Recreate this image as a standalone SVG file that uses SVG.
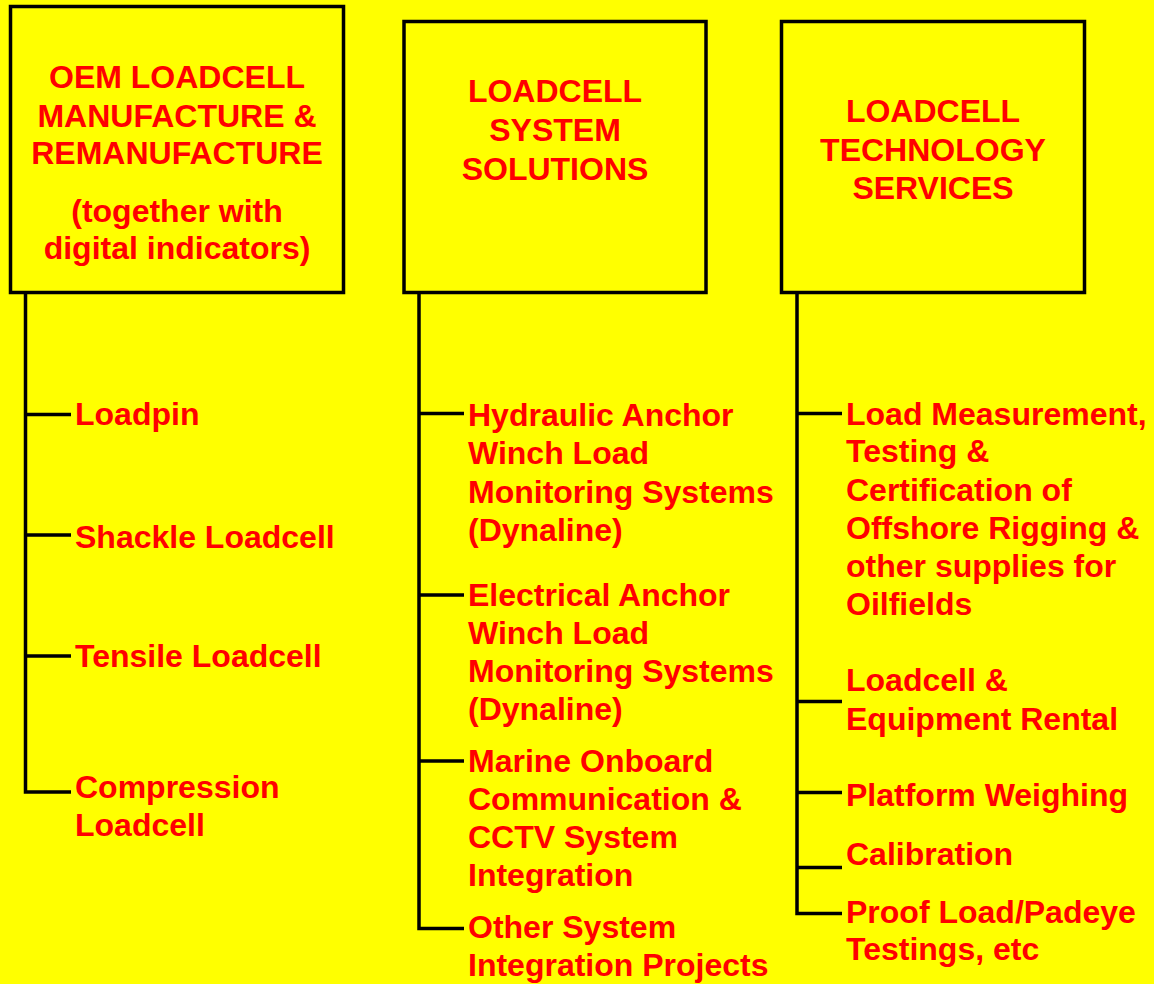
<svg xmlns="http://www.w3.org/2000/svg" width="1163" height="984" viewBox="0 0 1163 984">
<style>
.box{fill:#FFFF00;stroke:#000;stroke-width:3.5}
.t{font-family:"Liberation Sans",Arial,sans-serif;font-weight:bold;font-size:32px;fill:#FF0000}
.c{text-anchor:middle}
.ln{fill:none;stroke:#000;stroke-width:3.5}
</style>
<rect x="0" y="0" width="1163" height="984" fill="#FFFFFF"/>
<rect x="0" y="0" width="1154" height="984" fill="#FFFF00"/>
<g id="connectors">
<path class="ln" d="M25.5 294 V792 H71 M25.5 414.5 H71 M25.5 535 H71 M25.5 656 H71"/>
<path class="ln" d="M419 294 V928.5 H464 M419 413.5 H464 M419 595 H464 M419 761 H464"/>
<path class="ln" d="M797 294 V913.5 H842 M797 413.5 H842 M797 701.5 H842 M797 792.5 H842 M797 867.5 H842"/>
</g>
<g id="box-oem">
<rect class="box" x="10.5" y="6.5" width="333" height="286"/>
<text class="t c" x="177" y="88">OEM LOADCELL</text>
<text class="t c" x="177" y="127">MANUFACTURE &amp;</text>
<text class="t c" x="177" y="164">REMANUFACTURE</text>
<text class="t c" x="177" y="222">(together with</text>
<text class="t c" x="177" y="259">digital indicators)</text>
</g>
<g id="box-system">
<rect class="box" x="404" y="21.5" width="302" height="271"/>
<text class="t c" x="555" y="102">LOADCELL</text>
<text class="t c" x="555" y="141">SYSTEM</text>
<text class="t c" x="555" y="180">SOLUTIONS</text>
</g>
<g id="box-tech">
<rect class="box" x="781.5" y="21.5" width="303" height="271"/>
<text class="t c" x="933" y="122">LOADCELL</text>
<text class="t c" x="933" y="161">TECHNOLOGY</text>
<text class="t c" x="933" y="199">SERVICES</text>
</g>
<g id="item-loadpin"><text class="t" x="75" y="425">Loadpin</text></g>
<g id="item-shackle"><text class="t" x="75" y="548">Shackle Loadcell</text></g>
<g id="item-tensile"><text class="t" x="75" y="667">Tensile Loadcell</text></g>
<g id="item-compression"><text class="t" x="75" y="798">Compression</text><text class="t" x="75" y="836">Loadcell</text></g>
<g id="item-hydraulic">
<text class="t" x="468" y="426">Hydraulic Anchor</text>
<text class="t" x="468" y="464">Winch Load</text>
<text class="t" x="468" y="503">Monitoring Systems</text>
<text class="t" x="468" y="541">(Dynaline)</text>
</g>
<g id="item-electrical">
<text class="t" x="468" y="606">Electrical Anchor</text>
<text class="t" x="468" y="644">Winch Load</text>
<text class="t" x="468" y="682">Monitoring Systems</text>
<text class="t" x="468" y="720">(Dynaline)</text>
</g>
<g id="item-marine">
<text class="t" x="468" y="772">Marine Onboard</text>
<text class="t" x="468" y="810">Communication &amp;</text>
<text class="t" x="468" y="848">CCTV System</text>
<text class="t" x="468" y="886">Integration</text>
</g>
<g id="item-other">
<text class="t" x="468" y="938">Other System</text>
<text class="t" x="468" y="976">Integration Projects</text>
</g>
<g id="item-load-measurement">
<text class="t" x="846" y="425">Load Measurement,</text>
<text class="t" x="846" y="462">Testing &amp;</text>
<text class="t" x="846" y="501">Certification of</text>
<text class="t" x="846" y="539">Offshore Rigging &amp;</text>
<text class="t" x="846" y="577">other supplies for</text>
<text class="t" x="846" y="615">Oilfields</text>
</g>
<g id="item-rental">
<text class="t" x="846" y="691">Loadcell &amp;</text>
<text class="t" x="846" y="730">Equipment Rental</text>
</g>
<g id="item-platform"><text class="t" x="846" y="806">Platform Weighing</text></g>
<g id="item-calibration"><text class="t" x="846" y="865">Calibration</text></g>
<g id="item-proof">
<text class="t" x="846" y="923">Proof Load/Padeye</text>
<text class="t" x="846" y="960">Testings, etc</text>
</g>
</svg>
